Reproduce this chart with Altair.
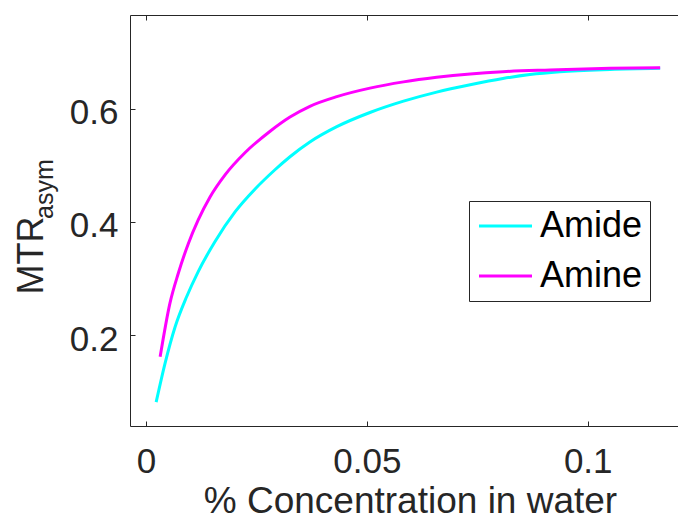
import altair as alt
import pandas as pd

# ---- data ----
agents = ["Amide", "Amine"]
colors = ["#00FFFF", "#FF00FF"]

amide_x = [0.0023, 0.0043, 0.0066, 0.0092, 0.0118, 0.0156, 0.0202, 0.0247, 0.0292, 0.0326,
           0.0371, 0.0432, 0.0507, 0.0583, 0.0658, 0.0734, 0.0808, 0.0869, 0.0937, 0.1051, 0.1164]
amide_y = [0.082, 0.150, 0.215, 0.268, 0.312, 0.365, 0.418, 0.458, 0.492, 0.515,
           0.541, 0.568, 0.593, 0.613, 0.629, 0.642, 0.653, 0.660, 0.665, 0.669, 0.671]

amine_x = [0.0032, 0.0054, 0.0073, 0.0096, 0.0118, 0.0145, 0.0179, 0.0224, 0.0281, 0.0326,
           0.0371, 0.0432, 0.0507, 0.0583, 0.0658, 0.0734, 0.0808, 0.0915, 0.1051, 0.1164]
amine_y = [0.162, 0.256, 0.309, 0.362, 0.403, 0.444, 0.483, 0.522, 0.560, 0.585,
           0.604, 0.621, 0.636, 0.647, 0.655, 0.661, 0.665, 0.668, 0.671, 0.672]

x_ticks = [0, 0.05, 0.1]
y_ticks = [0.2, 0.4, 0.6]
x_domain = [-0.00362, 0.12044]
y_domain = [0.04, 0.765]

x_title = "% Concentration in water"
y_title = "MTR"
y_sub = "asym"

FONT = "Liberation Sans"
INK = "#262626"

rows = []
for a, xs_, ys_ in [("Amide", amide_x, amide_y), ("Amine", amine_x, amine_y)]:
    for i, (xv, yv) in enumerate(zip(xs_, ys_)):
        rows.append({"agent": a, "conc": xv, "mtr": yv, "order": i})
df = pd.DataFrame(rows)

xs = alt.Scale(domain=x_domain, nice=False, zero=False)
ys = alt.Scale(domain=y_domain, nice=False, zero=False)

lines = alt.Chart(df).mark_line(strokeWidth=3, interpolate="monotone").encode(
    x=alt.X("conc:Q", scale=xs, axis=alt.Axis(
        orient="bottom", values=x_ticks, format="~g", ticks=False, tickSize=0,
        domain=True, labelBaseline="alphabetic", labelPadding=46,
        title=x_title, titleBaseline="alphabetic", titleY=86, titleX=280,
        titleAlign="center")),
    y=alt.Y("mtr:Q", scale=ys, axis=alt.Axis(
        orient="left", values=y_ticks, format="~g", ticks=False, tickSize=0,
        domain=True, labelBaseline="alphabetic", labelOffset=15, labelPadding=12,
        title=y_title, titleAngle=270, titleAlign="left", titleBaseline="alphabetic",
        titleX=-88, titleY=279, titleFontSize=36)),
    color=alt.Color("agent:N", scale=alt.Scale(domain=agents, range=colors),
                    legend=alt.Legend(
                        orient="none", legendX=339, legendY=186, title=None,
                        symbolType="M-1.5,0H3.8", symbolSize=400, symbolStrokeWidth=3,
                        labelFontSize=36, labelFont=FONT, labelColor="black",
                        strokeColor=INK, fillColor="white", padding=7,
                        rowPadding=14, labelOffset=28)),
    order="order:Q",
)

ticks_in = alt.Chart(df).mark_line(opacity=0).encode(
    x=alt.X("conc:Q", scale=xs, axis=alt.Axis(
        orient="bottom", values=x_ticks, offset=-5, tickSize=5, domain=False,
        labels=False, title=None)),
    y=alt.Y("mtr:Q", scale=ys, axis=alt.Axis(
        orient="left", values=y_ticks, offset=-5, tickSize=5, domain=False,
        labels=False, title=None)),
)

ticks_top = alt.Chart(df).mark_line(opacity=0).encode(
    x=alt.X("conc:Q", scale=xs, axis=alt.Axis(
        orient="top", values=x_ticks, offset=-5, tickSize=5, domain=False,
        labels=False, title=None)),
    y=alt.Y("mtr:Q", scale=ys, axis=None),
)

top_line = alt.Chart(df).mark_line(opacity=0).encode(
    x=alt.X("conc:Q", scale=xs, axis=alt.Axis(
        orient="top", values=x_ticks, ticks=False, tickSize=0, domain=True,
        labels=False, title=None)),
    y=alt.Y("mtr:Q", scale=ys, axis=None),
)

sub = alt.Chart(pd.DataFrame({"t": [y_sub]})).mark_text(
    angle=270, align="left", baseline="alphabetic", fontSize=25, font=FONT, color=INK
).encode(x=alt.value(-77), y=alt.value(204), text="t:N")

chart = alt.layer(ticks_in, ticks_top, top_line, lines, sub).resolve_axis(
    x="independent", y="independent"
).properties(
    width=548, height=411,
    autosize=alt.AutoSizeParams(type="none"),
    padding={"left": 130, "top": 15, "right": 0, "bottom": 93},
).configure_view(strokeWidth=0).configure_axis(
    labelFont=FONT, labelFontSize=35, labelColor=INK,
    titleFont=FONT, titleFontSize=37, titleColor=INK, titleFontWeight="normal",
    domainColor=INK, domainWidth=1, tickColor=INK, tickWidth=1, grid=False,
)

chart.save("out.html", embed_options={"renderer": "svg", "actions": False})
